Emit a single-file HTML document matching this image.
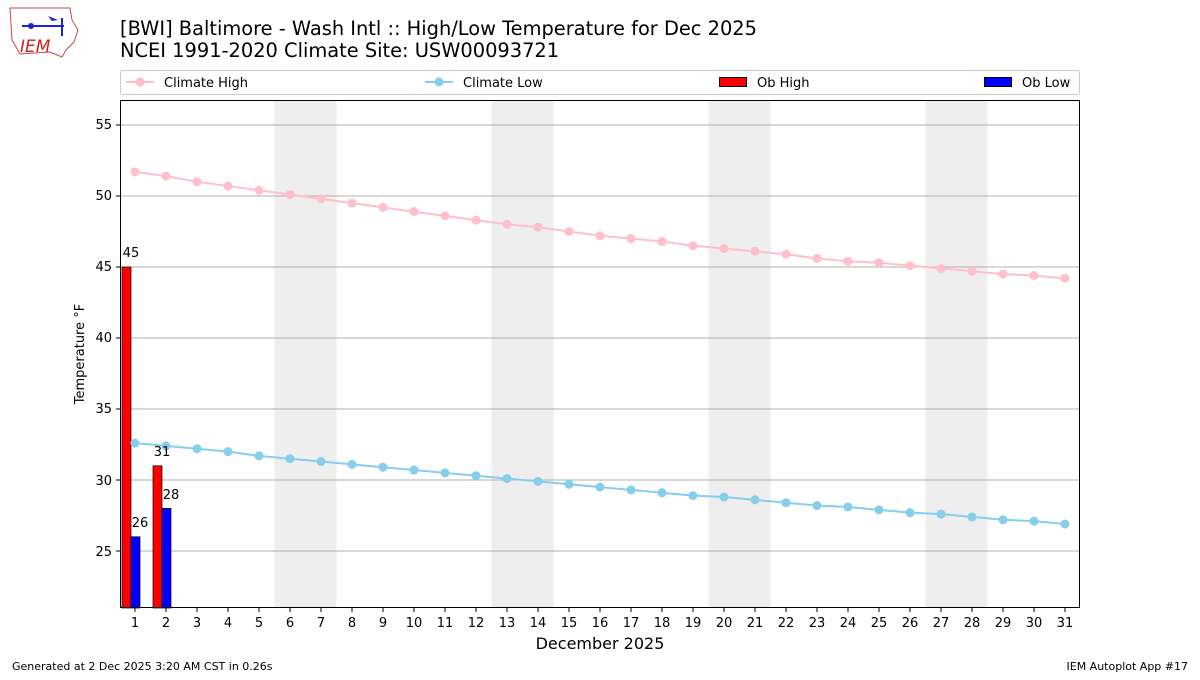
<!DOCTYPE html>
<html><head><meta charset="utf-8"><style>
body{margin:0;background:#fff;}
svg text{font-family:"DejaVu Sans","Liberation Sans",sans-serif;}
</style></head><body>
<svg id="s" width="1200" height="675" xmlns="http://www.w3.org/2000/svg">
<rect width="1200" height="675" fill="#fff"/>
<g>
<path d="M10 8 L70 8 L72 20 L78 30 L74 42 L66 50 L62 57 L50 52 L20 54 L12 40 Z" fill="none" stroke="#c44" stroke-width="1"/>
<text x="20" y="52" font-size="17" fill="#c22" font-style="italic" font-family="Liberation Serif,serif">IEM</text>
<line x1="22" y1="26" x2="64" y2="26" stroke="#22c" stroke-width="2"/>
<line x1="62" y1="18" x2="62" y2="36" stroke="#22c" stroke-width="2"/>
<circle cx="31" cy="26" r="3" fill="#22c"/>
<path d="M48 16 L58 20 L52 21Z" fill="#22c"/>
</g>
<text x="120" y="35" font-size="19.4">[BWI] Baltimore - Wash Intl :: High/Low Temperature for Dec 2025</text>
<text x="120" y="57" font-size="19.4">NCEI 1991-2020 Climate Site: USW00093721</text>
<rect x="120.5" y="70.5" width="959" height="24" fill="#fff" stroke="#ccc" rx="2"/>
<line x1="126" y1="82" x2="154" y2="82" stroke="pink" stroke-width="2"/><circle cx="140" cy="82" r="4.5" fill="pink"/>
<text x="164" y="87" font-size="13">Climate High</text>
<line x1="425" y1="82" x2="453" y2="82" stroke="skyblue" stroke-width="2"/><circle cx="439" cy="82" r="4.5" fill="skyblue"/>
<text x="463" y="87" font-size="13">Climate Low</text>
<rect x="719.5" y="77.5" width="27" height="9" fill="red" stroke="#000"/>
<text x="757" y="87" font-size="13">Ob High</text>
<rect x="984.5" y="77.5" width="27" height="9" fill="blue" stroke="#000"/>
<text x="1022" y="87" font-size="13">Ob Low</text>
<g id="plot"></g>
<rect x="120.5" y="100.5" width="959" height="507" fill="none" stroke="#000"/>
<g font-size="13" text-anchor="end">
<text x="112" y="556">25</text><text x="112" y="485">30</text><text x="112" y="413">35</text>
<text x="112" y="342">40</text><text x="112" y="271">45</text><text x="112" y="200">50</text><text x="112" y="129">55</text>
</g>
<g font-size="13" text-anchor="middle">
<text x="135" y="627">1</text><text x="166" y="627">2</text><text x="197" y="627">3</text><text x="228" y="627">4</text><text x="259" y="627">5</text><text x="290" y="627">6</text><text x="321" y="627">7</text><text x="352" y="627">8</text><text x="383" y="627">9</text><text x="414" y="627">10</text><text x="445" y="627">11</text><text x="476" y="627">12</text><text x="507" y="627">13</text><text x="538" y="627">14</text><text x="569" y="627">15</text><text x="600" y="627">16</text><text x="631" y="627">17</text><text x="662" y="627">18</text><text x="693" y="627">19</text><text x="724" y="627">20</text><text x="755" y="627">21</text><text x="786" y="627">22</text><text x="817" y="627">23</text><text x="848" y="627">24</text><text x="879" y="627">25</text><text x="910" y="627">26</text><text x="941" y="627">27</text><text x="972" y="627">28</text><text x="1003" y="627">29</text><text x="1034" y="627">30</text><text x="1065" y="627">31</text>
</g>
<text x="600" y="649" font-size="16" text-anchor="middle">December 2025</text>
<text transform="translate(84,354) rotate(-90)" font-size="13" text-anchor="middle">Temperature °F</text>
<g font-size="13" text-anchor="middle">
<text x="131" y="257">45</text><text x="162" y="456">31</text><text x="140" y="527">26</text><text x="171" y="499">28</text>
</g>
<text x="12" y="670" font-size="11">Generated at 2 Dec 2025 3:20 AM CST in 0.26s</text>
<text x="1188" y="670" font-size="11" text-anchor="end">IEM Autoplot App #17</text>
</svg>
<script>
var g=document.getElementById('plot'),h='';
function X(d){return 135+(d-1)*31;}function Y(v){return 551-(v-25)*14.2;}
[6,13,20,27].forEach(function(d){h+='<rect x="'+(X(d)-15.5)+'" y="101" width="62" height="507" fill="#eee"/>';});
[25,30,35,40,45,50,55].forEach(function(v){h+='<line x1="121" x2="1079" y1="'+Y(v)+'" y2="'+Y(v)+'" stroke="#b0b0b0" stroke-width="1"/>';});
for(var d=1;d<=31;d++){h+='<line x1="'+X(d)+'" x2="'+X(d)+'" y1="608" y2="612" stroke="#000"/>';}
[25,30,35,40,45,50,55].forEach(function(v){h+='<line x1="116" x2="120" y1="'+Y(v)+'" y2="'+Y(v)+'" stroke="#000"/>';});
var hi=[51.7,51.4,51.0,50.7,50.4,50.1,49.8,49.5,49.2,48.9,48.6,48.3,48.0,47.8,47.5,47.2,47.0,46.8,46.5,46.3,46.1,45.9,45.6,45.4,45.3,45.1,44.9,44.7,44.5,44.4,44.2];
var lo=[32.6,32.4,32.2,32.0,31.7,31.5,31.3,31.1,30.9,30.7,30.5,30.3,30.1,29.9,29.7,29.5,29.3,29.1,28.9,28.8,28.6,28.4,28.2,28.1,27.9,27.7,27.6,27.4,27.2,27.1,26.9];
function bar(x,v,c){h+='<rect x="'+x+'" y="'+Y(v)+'" width="9" height="'+(608-Y(v))+'" fill="'+c+'" stroke="#000" stroke-width="0.7"/>';}
bar(122,45,'red');bar(131,26,'blue');bar(153,31,'red');bar(162,28,'blue');
[[hi,'pink'],[lo,'skyblue']].forEach(function(a){var p=a[0].map(function(v,i){return X(i+1)+','+Y(v);}).join(' ');
h+='<polyline points="'+p+'" fill="none" stroke="'+a[1]+'" stroke-width="2"/>';
a[0].forEach(function(v,i){h+='<circle cx="'+X(i+1)+'" cy="'+Y(v)+'" r="4.5" fill="'+a[1]+'"/>';});});
g.innerHTML=h;
</script>
</body></html>
